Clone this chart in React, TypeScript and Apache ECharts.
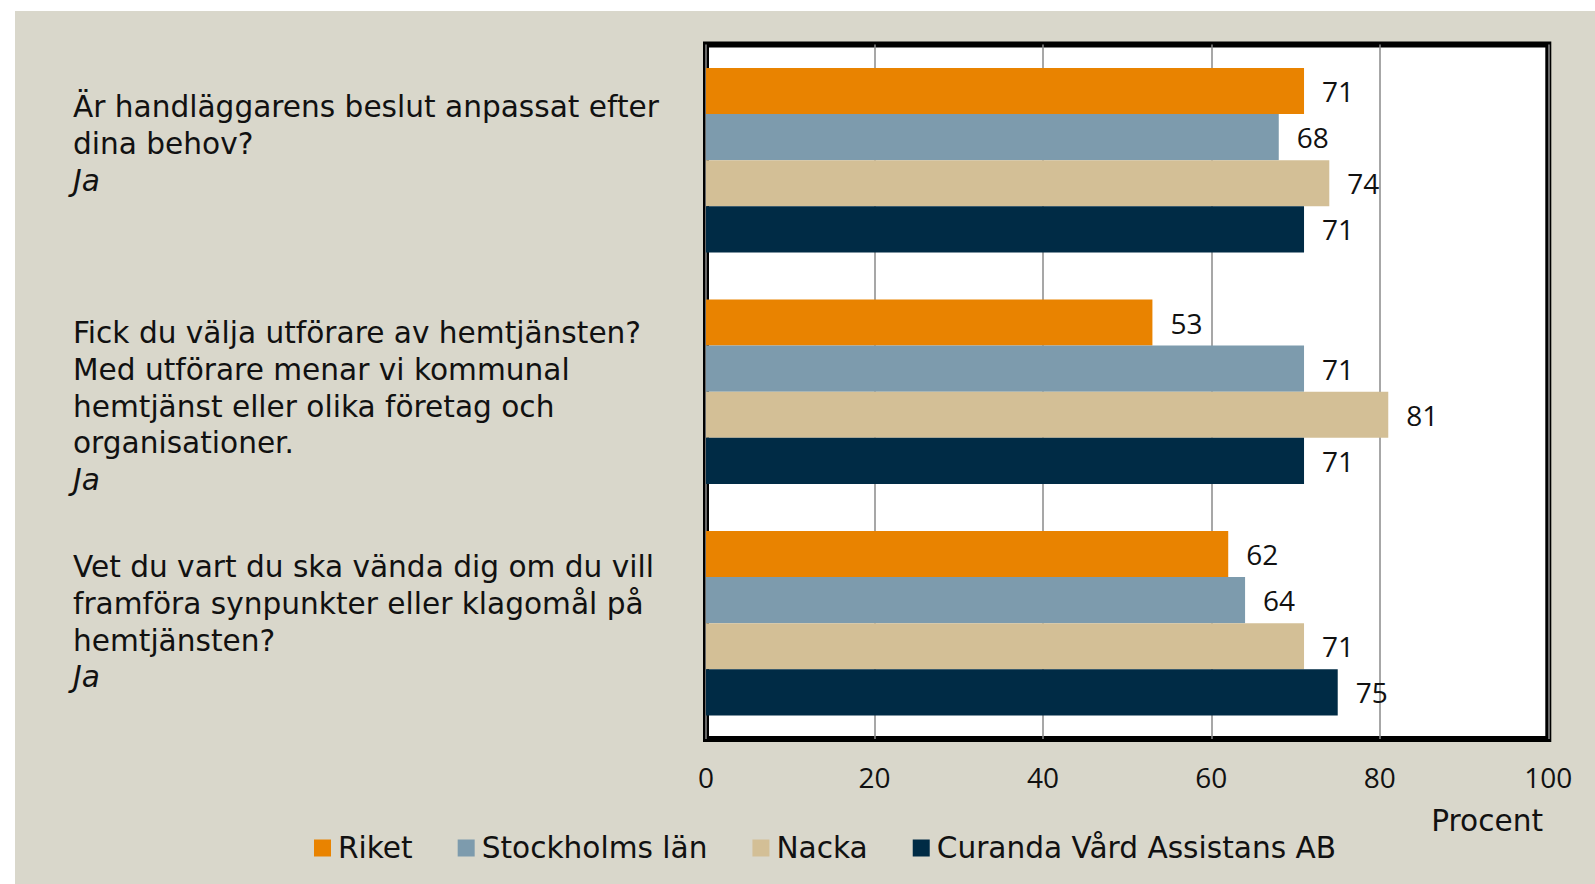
import React, { useEffect, useRef } from "react";
import * as echarts from "echarts";

const categories = [
  "Är handläggarens beslut anpassat efter\ndina behov?",
  "Fick du välja utförare av hemtjänsten?\nMed utförare menar vi kommunal\nhemtjänst eller olika företag och\norganisationer.",
  "Vet du vart du ska vända dig om du vill\nframföra synpunkter eller klagomål på\nhemtjänsten?",
];
const answerLabel = "Ja";
const seriesNames = ["Riket", "Stockholms län", "Nacka", "Curanda Vård Assistans AB"];
const riket = [71, 53, 62];
const stockholm = [68, 71, 64];
const nacka = [74, 81, 71];
const curanda = [71, 71, 75];
const seriesValues = [riket, stockholm, nacka, curanda];
const xTicks = [0, 20, 40, 60, 80, 100];
const axisTitle = "Procent";
const colors = ["#E98300", "#7D9BAD", "#D3BF96", "#002B45"];

const NUMFONT = "'Open Sans', 'Noto Sans', sans-serif";
const TEXTFONT = "'DejaVu Sans', 'Open Sans', sans-serif";
const FS = 28;
const TFS = 29.6;
const LH = 36.8;
const questionTops = [89, 314.5, 548.5];

export default function App() {
  const ref = useRef<HTMLDivElement>(null);
  useEffect(() => {
    if (!ref.current) return;
    const chart = echarts.init(ref.current, undefined, { renderer: "svg" });
    const questionGraphics = categories.map((c, i) => {
      const lines = c.split("\n").map((l) => `{n|${l}}`);
      lines.push(`{i|${answerLabel}}`);
      return {
        type: "text",
        x: 73,
        y: questionTops[i],
        style: {
          text: lines.join("\n"),
          fill: "#111",
          fontFamily: TEXTFONT,
          fontSize: TFS,
          lineHeight: LH,
          textVerticalAlign: "top",
          verticalAlign: "top",
          rich: {
            n: { fontFamily: TEXTFONT, fontSize: TFS, lineHeight: LH, fill: "#111" },
            i: { fontFamily: TEXTFONT, fontSize: TFS, lineHeight: LH, fontStyle: "italic", fill: "#111" },
          },
        },
      };
    });
    chart.setOption({
      animation: false,
      backgroundColor: "#ffffff",
      graphic: [
        {
          type: "rect",
          z: -10,
          silent: true,
          shape: { x: 15, y: 11, width: 1600, height: 900 },
          style: { fill: "#D9D7CB" },
        },
        ...questionGraphics,
        {
          type: "text",
          x: 1543,
          y: 821,
          style: {
            text: axisTitle,
            fill: "#111",
            fontFamily: TEXTFONT,
            fontSize: TFS,
            textAlign: "right",
            textVerticalAlign: "middle",
            verticalAlign: "middle",
          },
        },
      ],
      legend: {
        data: seriesNames,
        left: 309,
        top: 828,
        itemWidth: 17,
        itemHeight: 17,
        itemGap: 45,
        icon: "rect",
        textStyle: { fontFamily: TEXTFONT, fontSize: TFS, color: "#111", padding: [0, 0, 0, 2] },
      },
      grid: {
        left: 706,
        top: 44.5,
        width: 842.3,
        height: 694.4,
        show: true,
        backgroundColor: "#ffffff",
        borderColor: "#000000",
        borderWidth: 6,
        containLabel: false,
      },
      xAxis: {
        type: "value",
        min: xTicks[0],
        max: xTicks[xTicks.length - 1],
        interval: xTicks[1] - xTicks[0],
        axisLine: { show: false },
        axisTick: { show: false },
        axisLabel: { fontFamily: NUMFONT, fontSize: FS, color: "#111", margin: 24 },
        splitLine: { show: true, lineStyle: { color: "#8a8a8a", width: 1.5 } },
      },
      yAxis: {
        type: "category",
        data: categories,
        inverse: true,
        axisLine: { show: false },
        axisTick: { show: false },
        axisLabel: { show: false },
        splitLine: { show: false },
      },
      series: seriesNames.map((name, i) => ({
        name,
        type: "bar",
        data: seriesValues[i],
        barGap: "0%",
        barCategoryGap: "20.3%",
        itemStyle: { color: colors[i] },
        label: {
          show: true,
          position: "right",
          distance: 18,
          fontFamily: NUMFONT,
          fontSize: FS,
          color: "#111",
        },
      })),
    });
    return () => chart.dispose();
  }, []);
  return (
    <div
      ref={ref}
      style={{ position: "absolute", left: 0, top: 0, width: 1595, height: 884 }}
    />
  );
}
